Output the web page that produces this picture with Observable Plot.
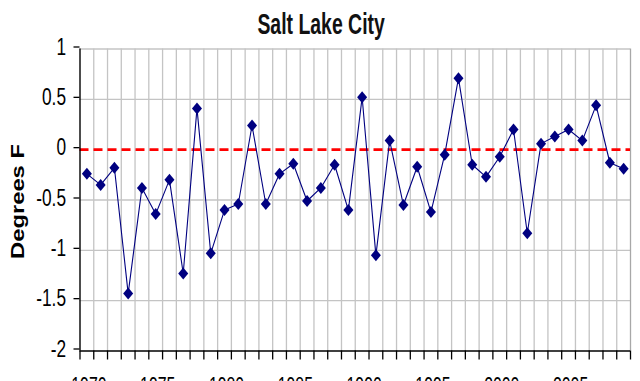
<!DOCTYPE html>
<html><head><meta charset="utf-8">
<script src="https://cdn.jsdelivr.net/npm/d3@7"></script>
<script src="https://cdn.jsdelivr.net/npm/@observablehq/plot@0.6"></script>
<style>
body{margin:0;background:#fff;width:640px;height:381px;overflow:hidden;position:relative;font-family:"Liberation Sans",Arial,sans-serif}
#title{position:absolute;left:0;top:0;width:642px;height:40px;text-align:center;color:#111}
#title span{display:inline-block;font-weight:bold;font-size:29px;line-height:29px;margin-top:10px;transform:scaleX(0.67);transform-origin:center}
#chart{position:absolute;left:0;top:40px}
</style></head><body>
<div id="title"><span id="titletext"></span></div>
<div id="chart"></div>
<script>
const title = "Salt Lake City";
const yLabel = "Degrees F";
const years = [1970,1971,1972,1973,1974,1975,1976,1977,1978,1979,
               1980,1981,1982,1983,1984,1985,1986,1987,1988,1989,
               1990,1991,1992,1993,1994,1995,1996,1997,1998,1999,
               2000,2001,2002,2003,2004,2005,2006,2007,2008,2009];
const anomalies = [-0.24,-0.35,-0.18,-1.43,-0.38,-0.64,-0.30,-1.23,0.41,-1.03,
                   -0.60,-0.54,0.24,-0.54,-0.24,-0.14,-0.51,-0.38,-0.15,-0.60,
                   0.52,-1.05,0.09,-0.55,-0.17,-0.62,-0.05,0.71,-0.15,-0.27,
                   -0.07,0.20,-0.83,0.06,0.13,0.20,0.09,0.44,-0.13,-0.19];
const yTicks = [1, 0.5, 0, -0.5, -1, -1.5, -2];
const xTickLabels = [1970, 1975, 1980, 1985, 1990, 1995, 2000, 2005];

document.getElementById("titletext").textContent = title;
const data = years.map((year, i) => ({year, value: anomalies[i]}));
const bounds = [...years.map(y => y - 0.5), years[years.length - 1] + 0.5];

// Excel-style diamond marker (about 10 px wide, 12 px tall)
const excelDiamond = {
  draw(ctx) {
    const w = 5, h = 6;
    ctx.moveTo(0, -h); ctx.lineTo(w, 0); ctx.lineTo(0, h); ctx.lineTo(-w, 0); ctx.closePath();
  }
};

const chart = Plot.plot({
  width: 640, height: 360,
  marginLeft: 79.5, marginRight: 10, marginTop: 8.5, marginBottom: 49.5,
  x: {type: "linear", domain: [bounds[0], bounds[bounds.length - 1]]},
  y: {domain: [-2, 1]},
  style: {fontFamily: "'Liberation Sans', Arial, sans-serif", background: "white", overflow: "visible", color: "black"},
  marks: [
    Plot.ruleX(bounds.slice(1, -1), {stroke: "#c4c4c4", strokeWidth: 1.3}),
    Plot.ruleY(yTicks.filter(v => v > -2 && v !== 0), {stroke: "#c4c4c4", strokeWidth: 1.3}),
    Plot.ruleX([bounds[bounds.length - 1]], {stroke: "#a8a8a8", strokeWidth: 1.3}),
    Plot.ruleY([0], {stroke: "#ff0000", strokeWidth: 2.6, strokeDasharray: "9,5"}),
    Plot.ruleX([bounds[0]], {stroke: "black", strokeWidth: 1.4}),
    Plot.ruleY([-2], {stroke: "black", strokeWidth: 1.6}),
    Plot.axisY({ticks: yTicks, tickSize: 6, tickPadding: 8, tickFormat: d => String(d), fontSize: 24, label: null, dy: -2, strokeWidth: 1.3}),
    Plot.axisX({ticks: bounds, tickSize: 9, tickFormat: () => "", label: null, strokeWidth: 1.3}),
    Plot.axisX({ticks: xTickLabels, tickSize: 0, tickPadding: 26, tickFormat: d => String(d), fontSize: 24, label: null, dx: 2}),
    Plot.line(data, {x: "year", y: "value", stroke: "#000080", strokeWidth: 1.1}),
    Plot.dot(data, {x: "year", y: "value", symbol: excelDiamond, r: 4, fill: "#000080", stroke: "none"}),
    Plot.text([yLabel], {frameAnchor: "left", textAnchor: "middle", dx: -61.5, dy: 1.5, rotate: -90, fontSize: 18, fontWeight: "bold", fill: "black"})
  ]
});
document.getElementById("chart").appendChild(chart);

function squeeze(sel, s) {
  sel.each(function () {
    const t = this.getAttribute("transform") || "";
    const x = +this.getAttribute("x") || 0, y = +this.getAttribute("y") || 0;
    this.setAttribute("transform", `${t} translate(${x},${y}) scale(${s},1) translate(${-x},${-y})`);
  });
}
const svg = d3.select(chart);
squeeze(svg.selectAll('g[aria-label="y-axis tick label"] text'), 0.72);
squeeze(svg.selectAll('g[aria-label="x-axis tick label"] text'), 0.66);
squeeze(svg.selectAll('g[aria-label="text"] text'), 1.32);
</script>
</body></html>
